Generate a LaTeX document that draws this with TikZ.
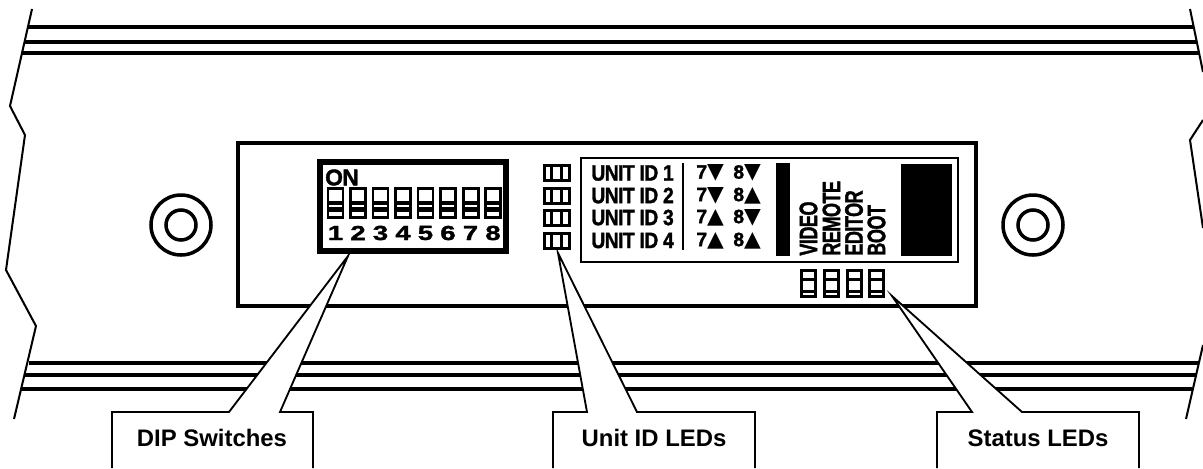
\documentclass[tikz,border=0pt]{standalone}
\usepackage{fontspec}
\setmainfont{Liberation Sans}
\newfontfamily\heavyfont[FakeBold=1.6]{Liberation Sans Bold}
\newfontfamily\tightfont[FakeBold=1.6, LetterSpace=-3]{Liberation Sans Bold}
\newfontfamily\markfont{DejaVu Sans Bold}

\newcommand{\mkdown}{{\markfont\fontsize{12.4pt}{14pt}\selectfont ▼}}
\newcommand{\mkup}{{\markfont\fontsize{12.4pt}{14pt}\selectfont ▲}}

\tikzset{
    rail/.style={line width=1.9pt},
    railthick/.style={line width=2.4pt},
    cutline/.style={line width=1.15pt, line join=miter},
    washer/.style={line width=2pt},
    ledbox/.style={line width=1.7pt},
    ledbar/.style={line width=1.7pt},
    switchbar/.style={line width=2.3pt},
    callout/.style={line width=1.05pt, fill=white, line join=miter},
    calloutlabel/.style={font=\fontsize{13.6pt}{15pt}\selectfont\bfseries},
    paneltext/.style={font=\fontsize{11pt}{12pt}\tightfont, anchor=west, inner sep=0pt, yscale=1.15},
    keytext/.style={font=\fontsize{11pt}{12pt}\heavyfont, anchor=west, inner sep=0pt},
    dipnum/.style={font=\fontsize{11.6pt}{13pt}\heavyfont, xscale=1.35, inner sep=0pt},
    ledname/.style={font=\fontsize{10.3pt}{12pt}\tightfont, rotate=90, yscale=1.4, anchor=west, inner xsep=0pt},
}

\begin{document}
\begin{tikzpicture}[x=0.02cm, y=-0.02cm]
    \useasboundingbox (0, 0) rectangle (1203, 468);

    % rails
    \draw[rail] (28, 27) -- (1193, 27);
    \draw[rail] (24, 42) -- (1196, 42);
    \draw[railthick] (22, 53) -- (1199, 53);
    \draw[rail] (29, 363) -- (1199, 363);
    \draw[railthick] (25, 375) -- (1196, 375);
    \draw[rail] (21, 389) -- (1192, 389);

    % broken edges
    \draw[cutline] (32, 9) -- (10, 106) -- (25, 135) -- (6, 270) -- (36, 326) -- (14, 419);
    \draw[cutline] (1190, 9) -- (1203, 72);
    \draw[cutline] (1203, 120) -- (1190, 140) -- (1203, 228);
    \draw[cutline] (1203, 345) -- (1186, 419);

    % mounting holes
    \foreach \cx in {181, 1033} {
        \draw[washer] (\cx, 225) circle [radius=30];
        \draw[washer] (\cx, 225) circle [radius=15];
    }

    % front panel
    \draw[line width=2.3pt] (238, 143) rectangle (976, 306);
    \draw[line width=1.2pt] (581, 158) rectangle (958, 262);

    % DIP switch block
    \draw[line width=3.2pt] (320, 162) rectangle (506, 251);
    \node[font=\fontsize{13pt}{14pt}\tightfont, inner sep=0pt] (onLabel) at (342, 177.5) {ON};
    \foreach \i [evaluate=\i as \sx using 328+22.5*(\i-1)] in {1, ..., 8} {
        \draw[ledbox] (\sx, 188) rectangle (\sx+15, 217);
        \draw[switchbar] (\sx, 203) -- (\sx+15, 203);
        \draw[switchbar] (\sx, 209.5) -- (\sx+15, 209.5);
        \node[dipnum] (dip\i) at (\sx+7.5, 233) {\i};
    }

    % unit ID LEDs
    \foreach \ly in {165.5, 188, 210.5, 233} {
        \draw[ledbox] (544.5, \ly) rectangle (569.5, \ly+15);
        \draw[ledbar] (551.5, \ly) -- (551.5, \ly+15);
        \draw[ledbar] (561.5, \ly) -- (561.5, \ly+15);
    }

    % unit ID legend
    \node[paneltext] (unitOne) at (591, 173) {UNIT ID 1};
    \node[paneltext] (unitTwo) at (591, 195.5) {UNIT ID 2};
    \node[paneltext] (unitThree) at (591, 217.5) {UNIT ID 3};
    \node[paneltext] (unitFour) at (591, 240.5) {UNIT ID 4};
    \draw[line width=1.2pt] (683, 163) -- (683, 250);
    \node[keytext] (sevenOne) at (696, 173) {7\mkdown};
    \node[keytext] (eightOne) at (733, 173) {8\mkdown};
    \node[keytext] (sevenTwo) at (696, 195.5) {7\mkdown};
    \node[keytext] (eightTwo) at (733, 195.5) {8\mkup};
    \node[keytext] (sevenThree) at (696, 217.5) {7\mkup};
    \node[keytext] (eightThree) at (733, 217.5) {8\mkdown};
    \node[keytext] (sevenFour) at (696, 240.5) {7\mkup};
    \node[keytext] (eightFour) at (733, 240.5) {8\mkup};
    \fill (776, 163) rectangle (790, 256);

    % status legend
    \node[ledname] (videoLabel) at (808.5, 256) {VIDEO};
    \node[ledname] (remoteLabel) at (831.5, 256) {REMOTE};
    \node[ledname] (editorLabel) at (854, 256) {EDITOR};
    \node[ledname] (bootLabel) at (876.5, 256) {BOOT};
    \fill (901, 164) rectangle (952, 256);

    % status LEDs
    \foreach \lx in {801.5, 824.5, 847, 869.5} {
        \draw[ledbox] (\lx, 270.5) rectangle (\lx+14, 296);
        \draw[ledbar] (\lx, 279) -- (\lx+14, 279);
        \draw[ledbar] (\lx, 291) -- (\lx+14, 291);
    }

    % callouts
    \coordinate (dipTip) at (348, 256);
    \coordinate (unitTip) at (558, 253);
    \coordinate (statusTip) at (892, 296);
    \draw[callout] (112, 468) -- (112, 412) -- (229, 412) -- (dipTip) -- (280, 412) -- (313, 412) -- (313, 468);
    \draw[callout] (553, 468) -- (553, 412) -- (587, 412) -- (unitTip) -- (637, 412) -- (755, 412) -- (755, 468);
    \draw[callout] (937, 468) -- (937, 412) -- (972, 412) -- (statusTip) -- (1022, 412) -- (1139, 412) -- (1139, 468);

    \node[calloutlabel] (dipLabel) at (212, 438) {DIP Switches};
    \node[calloutlabel] (unitLabel) at (654, 438) {Unit ID LEDs};
    \node[calloutlabel] (statusLabel) at (1038, 438) {Status LEDs};
\end{tikzpicture}
\end{document}
